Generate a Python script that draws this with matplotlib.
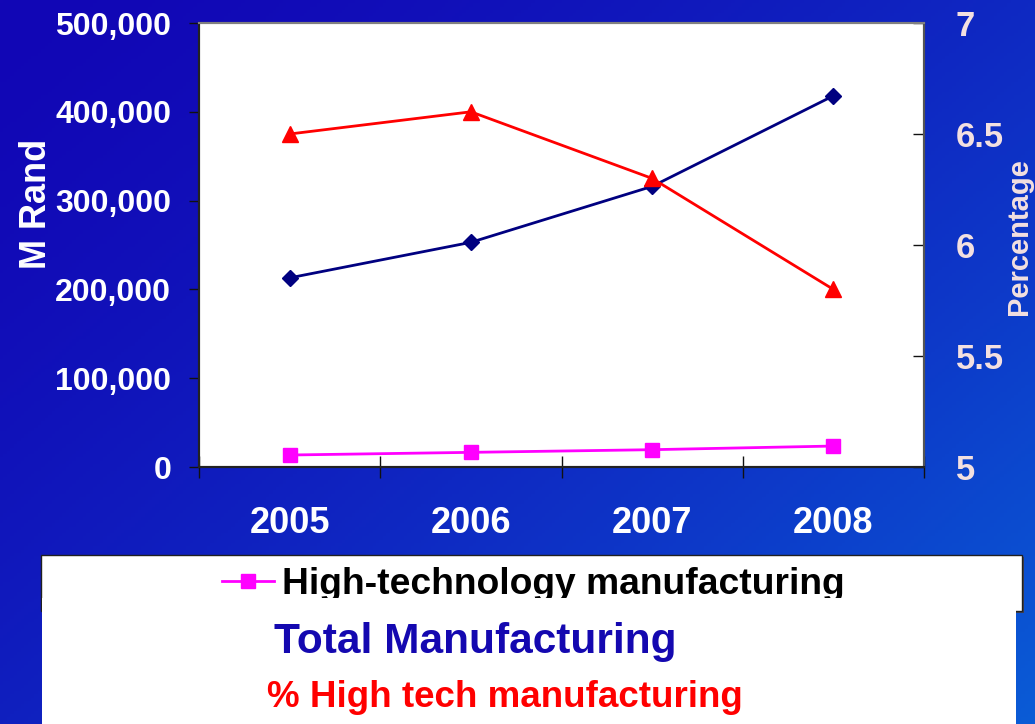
import numpy as np
import matplotlib
matplotlib.use("Agg")
import matplotlib.pyplot as plt
from matplotlib.patches import Rectangle
from matplotlib.ticker import FuncFormatter, FixedLocator

# data
years = ['2005', '2006', '2007', '2008']
total_mfg = [213000, 253000, 316000, 418000]      # M Rand
hightech_mfg = [13500, 16500, 19500, 23600]       # M Rand
pct_hightech = [6.5, 6.6, 6.3, 5.8]               # percentage (right axis)

left_ticks = [0, 100000, 200000, 300000, 400000, 500000]
right_ticks = [5, 5.5, 6, 6.5, 7]

plt.rcParams['font.family'] = 'Liberation Sans'
plt.rcParams['font.weight'] = 'bold'

W, H = 1035, 724
def fx(px):
    return px / W
def fy(py):
    return 1 - py / H

fig = plt.figure(figsize=(W / 100, H / 100), dpi=100)

# blue gradient background
bg = fig.add_axes([0, 0, 1, 1], zorder=-10)
xx, yy = np.meshgrid(np.linspace(0, 1, 300), np.linspace(0, 1, 220))
t = np.clip(0.55 * xx + 0.45 * yy, 0, 1) ** 1.5
c0 = np.array([18, 6, 181]) / 255
c1 = np.array([10, 92, 214]) / 255
grad = c0 + (c1 - c0) * t[..., None]
bg.imshow(grad, extent=[0, 1, 0, 1], aspect='auto', origin='upper')
bg.axis('off')

ax = fig.add_axes([fx(199), fy(467), fx(924) - fx(199), fy(23) - fy(467)])
ax.set_facecolor('white')
ax2 = ax.twinx()

x = np.arange(len(years))
l_tot, = ax.plot(x, total_mfg, color='#000080', lw=2, marker='D', ms=8)
l_ht, = ax.plot(x, hightech_mfg, color='#ff00ff', lw=2, marker='s', ms=10)
l_pct, = ax2.plot(x, pct_hightech, color='#ff0000', lw=2, marker='^', ms=11)

ax.set_xlim(-0.5, 3.5)
ax.set_ylim(0, 500000)
ax2.set_ylim(5, 7)

ax.set_xticks(x)
ax.set_xticklabels(years)
ax.xaxis.set_minor_locator(FixedLocator(np.arange(-0.5, 4, 1)))
ax.tick_params(axis='x', which='major', length=0, pad=28, labelsize=26, labelcolor='white')
ax.tick_params(axis='x', which='minor', direction='inout', length=16, width=1, color='#111111')

ax.set_yticks(left_ticks)
ax.yaxis.set_major_formatter(FuncFormatter(lambda v, p: f'{v:,.0f}'))
ax.tick_params(axis='y', direction='out', length=7, width=1, pad=13, labelsize=23,
               labelcolor='white', color='#111111')

ax2.set_yticks(right_ticks)
ax2.yaxis.set_major_formatter(FuncFormatter(lambda v, p: f'{v:g}'))
ax2.tick_params(axis='y', direction='in', length=8, width=1, pad=23, labelsize=25,
                labelcolor='#f3e0e0', color='#111111')

for a in (ax, ax2):
    a.spines['top'].set_color('#808080')
    a.spines['right'].set_color('#555555')
    a.spines['left'].set_color('#222222')
    a.spines['bottom'].set_color('#222222')
    for s in a.spines.values():
        s.set_linewidth(1.5)

ax.set_ylabel('M Rand', fontsize=26, fontweight='bold', color='white')
ax.yaxis.set_label_coords((54 - 199) / 725, (467 - 204) / 444)
ax2.set_ylabel('Percentage', fontsize=21, fontweight='bold', color='#f3e0e0')
ax2.yaxis.set_label_coords((1005 - 199) / 725, (467 - 237) / 444)

# legend box (partly covered by the white panel below)
shadow = Rectangle((fx(43), fy(613)), fx(1024) - fx(43), fy(557) - fy(613),
                   transform=fig.transFigure, facecolor='#404050', edgecolor='none', zorder=3)
box = Rectangle((fx(41), fy(611)), fx(1022) - fx(41), fy(555) - fy(611),
                transform=fig.transFigure, facecolor='white', edgecolor='#202020', lw=1, zorder=4)
fig.add_artist(shadow)
fig.add_artist(box)

leg = fig.legend(handles=[l_ht], labels=['High-technology manufacturing'],
                 loc='center left', bbox_to_anchor=(fx(222), fy(585)),
                 frameon=False, prop=dict(family='Liberation Sans', weight='bold', size=26.8),
                 handlelength=1.4, handletextpad=0.2, borderpad=0, borderaxespad=0)
leg.set_zorder(5)

cover = Rectangle((fx(42), fy(730)), fx(1016) - fx(42), fy(598) - fy(730),
                  transform=fig.transFigure, facecolor='white', edgecolor='none', zorder=6)
fig.add_artist(cover)

fig.text(fx(475), fy(653), 'Total Manufacturing', ha='center', va='baseline',
         fontsize=30.5, color='#1408b0', zorder=7)
fig.text(fx(505), fy(707), '% High tech manufacturing', ha='center', va='baseline',
         fontsize=26.5, color='#ff0000', zorder=7)

fig.savefig('out.png', dpi=100)
